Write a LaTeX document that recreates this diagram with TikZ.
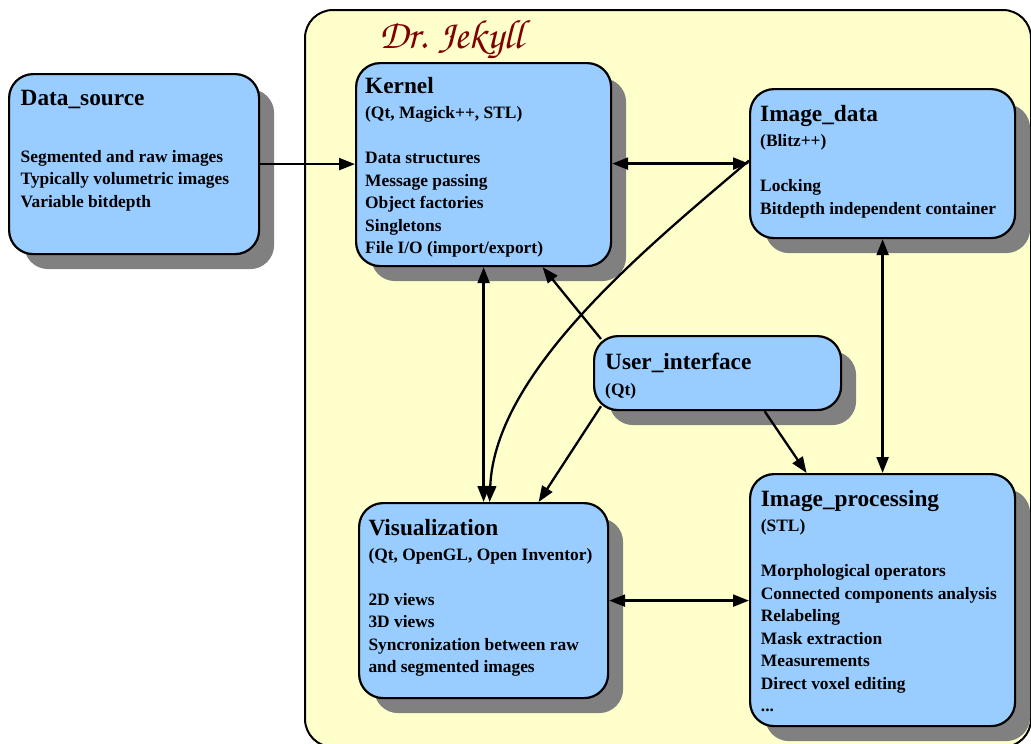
\documentclass[tikz,border=0pt]{standalone}
\usepackage[T1,TU]{fontenc}
\usepackage{fontspec}
\setmainfont{Liberation Serif}
\usetikzlibrary{arrows.meta,shadows,calc}

\definecolor{clusterfill}{RGB}{255,255,204}
\definecolor{boxfill}{RGB}{153,204,255}
\definecolor{shadowgray}{RGB}{128,128,128}
\definecolor{titlered}{RGB}{128,0,0}

% stacked text of a component: title, then lines with chosen baseline gaps
\newcommand\titlesize{\fontsize{23.3}{26}\selectfont}
\newcommand\entry[1]{\hbox{#1}\baselineskip=22.5pt\relax}
\newcommand\gapto[1]{\baselineskip=#1\relax}
\newcommand\boxtext[2]{\vtop{\lineskiplimit=-100pt\lineskip=0pt\hbox{\titlesize #1}#2}}

\tikzset{
  cluster/.style={draw=black, line width=2pt, fill=clusterfill,
    rounded corners=28pt, anchor=north west, inner sep=0pt},
  compbox/.style={draw=black, line width=2.2pt, fill=boxfill,
    rounded corners=24pt, anchor=north west, inner sep=0pt,
    general shadow={fill=shadowgray, shadow xshift=15pt, shadow yshift=-15pt}},
  textblock/.style={anchor=base west, inner sep=0pt,
    font=\fontsize{17.4}{22.5}\selectfont\bfseries},
  arr/.style={line width=2.3pt,
    -{Triangle[length=16pt,width=12pt]}},
  darr/.style={line width=2.3pt,
    {Triangle[length=16pt,width=12pt]}-{Triangle[length=16pt,width=12pt]}},
}

\begin{document}
\begin{tikzpicture}[x=1pt, y=-1pt]
\useasboundingbox (0,0) rectangle (1031,744);
\clip (0,0) rectangle (1031,744);

% enclosing package
\node[cluster, minimum width=726pt, minimum height=737pt] (jekyll) at (304,9) {};
\node[anchor=base west, inner sep=0pt, text=titlered,
      font={\fontencoding{T1}\fontfamily{pzc}\fontseries{mb}\fontshape{it}\fontsize{41}{44}\selectfont}]
  (jekyll-title) at (379,48) {Dr. Jekyll};

% components
\node[compbox, minimum width=250pt, minimum height=180pt] (ds) at (8,73) {};
\node[compbox, minimum width=255pt, minimum height=203pt] (kernel) at (355,62) {};
\node[compbox, minimum width=265pt, minimum height=149pt] (imgdata) at (749,88) {};
\node[compbox, minimum width=247pt, minimum height=74pt] (ui) at (593,335) {};
\node[compbox, minimum width=249pt, minimum height=195pt] (vis) at (358,502) {};
\node[compbox, minimum width=265pt, minimum height=252pt] (ip) at (749,473) {};

\node[textblock] (ds-text) at ([shift={(12.5,32)}]ds.north west)
  {\boxtext{Data\_source}{\gapto{57.4pt}\entry{Segmented and raw images}%
   \entry{Typically volumetric images}\entry{Variable bitdepth}}};

\node[textblock] (kernel-text) at ([shift={(10,31.5)}]kernel.north west)
  {\boxtext{Kernel}{\gapto{25pt}\entry{(Qt, Magick++, STL)}\gapto{45pt}%
   \entry{Data structures}\entry{Message passing}\entry{Object factories}%
   \entry{Singletons}\entry{File I/O (import/export)}}};

\node[textblock] (imgdata-text) at ([shift={(11,33.7)}]imgdata.north west)
  {\boxtext{Image\_data}{\gapto{25pt}\entry{(Blitz++)}\gapto{45pt}%
   \entry{Locking}\entry{Bitdepth independent container}}};

\node[textblock] (ui-text) at ([shift={(12,34.3)}]ui.north west)
  {\boxtext{User\_interface}{\gapto{25.7pt}\entry{(Qt)}}};

\node[textblock] (vis-text) at ([shift={(10.3,33)}]vis.north west)
  {\boxtext{Visualization}{\gapto{25pt}\entry{(Qt, OpenGL, Open Inventor)}\gapto{45pt}%
   \entry{2D views}\entry{3D views}\entry{Syncronization between raw}%
   \entry{and segmented images}}};

\node[textblock] (ip-text) at ([shift={(11.7,33.7)}]ip.north west)
  {\boxtext{Image\_processing}{\gapto{25pt}\entry{(STL)}\gapto{45pt}%
   \entry{Morphological operators}\entry{Connected components analysis}%
   \entry{Relabeling}\entry{Mask extraction}\entry{Measurements}%
   \entry{Direct voxel editing}\entry{...}}};

% connectors
\draw[arr] (ds.east) -- (ds.east -| kernel.west);
\draw[darr] (imgdata.west -| kernel.east) -- (imgdata.west);
\draw[darr] (kernel.south) -- (vis.north);
\draw[darr] (imgdata.south) -- (ip.north);
\draw[darr] (vis.east) -- (vis.east -| ip.west);
\draw[arr] ([shift={(8,4)}]ui.north west) -- ([xshift=59pt]kernel.south);
\draw[arr] ([shift={(8,-5)}]ui.south west) -- ([xshift=55pt]vis.north);
\draw[arr] ([xshift=47pt]ui.south) -- ([xshift=-76pt]ip.north);
\draw[arr] ([yshift=3pt]imgdata.west) .. controls (650,245) and (495,370) .. ([xshift=6pt]vis.north);
\end{tikzpicture}
\end{document}
